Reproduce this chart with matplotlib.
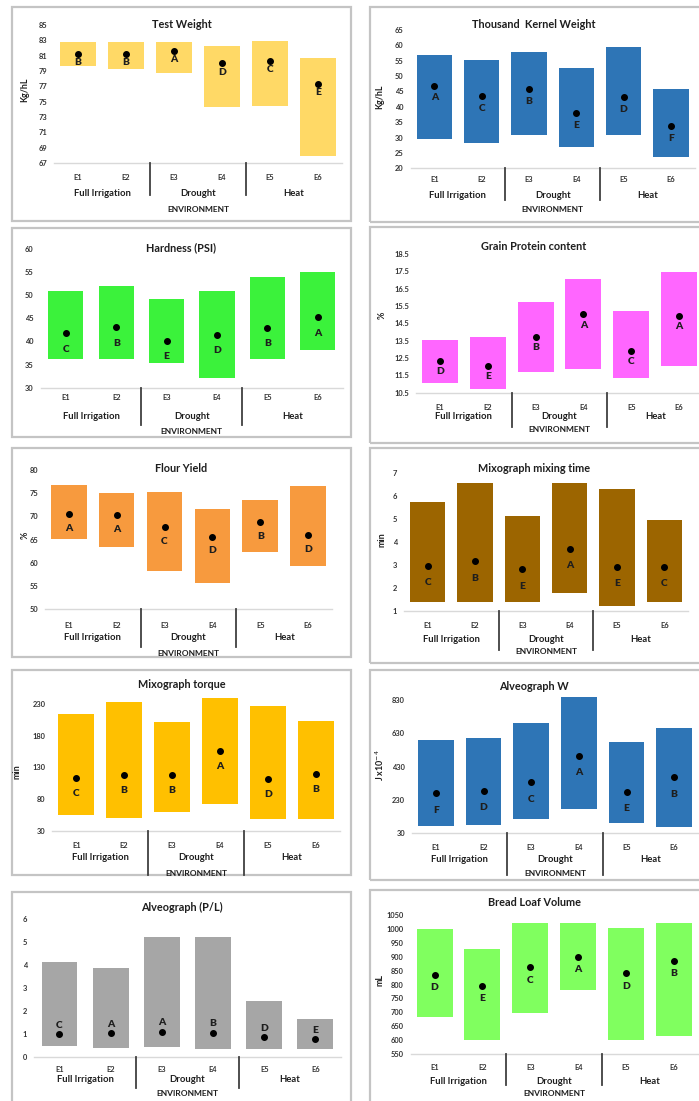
import matplotlib
matplotlib.use("Agg")
import matplotlib.pyplot as plt
from matplotlib.patches import Rectangle

# ---------------- data ----------------
envs = ["E1", "E2", "E3", "E4", "E5", "E6"]
groups = ["Full Irrigation", "Drought", "Heat"]
axis_title = "ENVIRONMENT"

tw_low = [79.7, 79.3, 78.8, 74.25, 74.4, 67.96]
tw_high = [82.75, 82.75, 82.75, 82.3, 82.96, 80.66]
tw_mean = [81.2, 81.2, 81.6, 80.0, 80.3, 77.3]
tw_letters = ["B", "B", "A", "D", "C", "E"]

tkw_low = [29.5, 28.3, 30.8, 27.0, 30.9, 23.7]
tkw_high = [56.9, 55.2, 57.7, 52.75, 59.4, 45.9]
tkw_mean = [46.9, 43.6, 45.9, 37.9, 43.1, 33.8]
tkw_letters = ["A", "C", "B", "E", "D", "F"]

hard_low = [36.1, 36.1, 35.3, 32.2, 36.1, 38.1]
hard_high = [51.0, 52.1, 49.1, 51.0, 54.0, 55.1]
hard_mean = [41.8, 43.1, 40.2, 41.4, 43.0, 45.2]
hard_letters = ["C", "B", "E", "D", "B", "A"]

prot_low = [11.06, 10.69, 11.67, 11.87, 11.37, 12.06]
prot_high = [13.54, 13.73, 15.75, 17.06, 15.23, 17.44]
prot_mean = [12.33, 12.06, 13.71, 15.02, 12.9, 14.92]
prot_letters = ["D", "E", "B", "A", "C", "A"]

flour_low = [65.1, 63.5, 58.25, 55.6, 62.4, 59.3]
flour_high = [76.8, 75.0, 75.3, 71.6, 73.5, 76.6]
flour_mean = [70.45, 70.3, 67.65, 65.65, 68.7, 66.0]
flour_letters = ["A", "A", "C", "D", "B", "D"]

mix_low = [1.36, 1.36, 1.36, 1.76, 1.22, 1.36]
mix_high = [5.73, 6.56, 5.15, 6.56, 6.30, 4.96]
mix_mean = [2.95, 3.15, 2.8, 3.69, 2.92, 2.92]
mix_letters = ["C", "B", "E", "A", "E", "C"]

torq_low = [54.8, 49.5, 60.1, 72.3, 48.5, 48.5]
torq_high = [214.7, 233.2, 202.6, 240.6, 227.9, 204.1]
torq_mean = [112.8, 118.1, 118.1, 156.1, 111.3, 119.7]
torq_letters = ["C", "B", "B", "A", "D", "B"]

alvw_low = [76, 80, 116, 176, 90, 66]
alvw_high = [590, 600, 690, 850, 576, 664]
alvw_mean = [270, 286, 336, 496, 280, 366]
alvw_letters = ["F", "D", "C", "A", "E", "B"]

pl_low = [0.47, 0.39, 0.44, 0.32, 0.33, 0.33]
pl_high = [4.15, 3.86, 5.24, 5.24, 2.43, 1.65]
pl_mean = [0.99, 1.02, 1.09, 1.05, 0.84, 0.76]
pl_letters = ["C", "A", "A", "B", "D", "E"]

loaf_low = [684.3, 600.4, 698.7, 780.2, 600.4, 615.9]
loaf_high = [998.4, 927.7, 1022.4, 1022.4, 1002.0, 1022.4]
loaf_mean = [835.4, 794.6, 861.8, 900.1, 840.2, 885.7]
loaf_letters = ["D", "E", "C", "A", "D", "B"]

titles = ["Test Weight", "Thousand  Kernel Weight", "Hardness (PSI)",
          "Grain Protein content", "Flour Yield", "Mixograph mixing time",
          "Mixograph torque", "Alveograph W", "Alveograph (P/L)",
          "Bread Loaf Volume"]
ylabels = ["Kg/hL", "Kg/hL", "", "%", "%", "min", "min", "J x10$^{-4}$", "", "mL"]
yticks_list = [
    [67, 69, 71, 73, 75, 77, 79, 81, 83, 85],
    [20, 25, 30, 35, 40, 45, 50, 55, 60, 65],
    [30, 35, 40, 45, 50, 55, 60],
    [10.5, 11.5, 12.5, 13.5, 14.5, 15.5, 16.5, 17.5, 18.5],
    [50, 55, 60, 65, 70, 75, 80],
    [1, 2, 3, 4, 5, 6, 7],
    [30, 80, 130, 180, 230],
    [30, 230, 430, 630, 830],
    [0, 1, 2, 3, 4, 5, 6],
    [550, 600, 650, 700, 750, 800, 850, 900, 950, 1000, 1050],
]
lows = [tw_low, tkw_low, hard_low, prot_low, flour_low, mix_low, torq_low, alvw_low, pl_low, loaf_low]
highs = [tw_high, tkw_high, hard_high, prot_high, flour_high, mix_high, torq_high, alvw_high, pl_high, loaf_high]
means = [tw_mean, tkw_mean, hard_mean, prot_mean, flour_mean, mix_mean, torq_mean, alvw_mean, pl_mean, loaf_mean]
letters = [tw_letters, tkw_letters, hard_letters, prot_letters, flour_letters, mix_letters,
           torq_letters, alvw_letters, pl_letters, loaf_letters]

# ---------------- styles / layout (pixels) ----------------
colors = ["#FFD966", "#2E75B6", "#3BF23B", "#FF66FF", "#F79A3E", "#9C6500",
          "#FFC000", "#2E75B6", "#A6A6A6", "#80FF5F"]
boxes = [(12, 7, 351, 221), (370, 7, 706, 222),
         (12, 228, 351, 437), (370, 227, 706, 443),
         (12, 448, 351, 657), (370, 448, 706, 663),
         (12, 670, 351, 875), (370, 670, 706, 880),
         (12, 892, 351, 1108), (370, 890, 706, 1108)]
axes_px = [(54, 342, 25, 163), (410.6, 694.6, 30, 168.3),
           (40.6, 343, 249, 387.7), (416, 703, 254, 392.7),
           (44.9, 332, 470, 609.3), (404, 688, 473.3, 610.7),
           (52.3, 339.6, 704.3, 830.7), (412, 698, 700, 833.3),
           (33.9, 341, 919.3, 1056.7), (410.6, 698, 915, 1054)]
rows = [(177, 193, 210, 195), (179, 195, 210, 200),
        (398, 417, 432, 425), (407, 417, 430, 427),
        (626, 638, 653, 647), (625, 639, 652, 650),
        (845, 857, 873, 875), (848, 860, 873, 875),
        (1069, 1080, 1093, 1088), (1067, 1081, 1093, 1085)]
title_y = [25, 25, 248, 246, 468, 468, 685, 686, 907, 903]
ylabel_pos = [(25, 90), (380, 97), None, (382, 315), (25, 535), (382, 540),
              (17, 772), (380, 765), None, (380, 980)]
letter_dy = [8.7, 12.3, 16, 10.7, 14, 16.7, 15, 16.7, -9, 12.7]
bar_w = [0.75, 0.75, 0.70, 0.75, 0.745, 0.75, 0.75, 0.75, 0.70, 0.75]

W, H = 699, 1101
DPI = 100
plt.rcParams['font.family'] = ['Lato', 'DejaVu Sans']
fig = plt.figure(figsize=(W / DPI, H / DPI), dpi=DPI)
fig.patch.set_facecolor("white")

PX = 72.0 / DPI
txt_col = "#333333"
dark = "#1E1E1E"


def fx(x):
    return x / W


def fy(y):
    return 1 - y / H


for i in range(10):
    l, t, r, b = boxes[i]
    fig.patches.append(Rectangle((fx(l), fy(b)), fx(r - l), (b - t) / H,
                                 transform=fig.transFigure, fill=False,
                                 edgecolor="#C4C4C4", linewidth=1.6, zorder=0))
    al, ar, at, ab = axes_px[i]
    ax = fig.add_axes([fx(al), fy(ab), fx(ar - al), (ab - at) / H])
    ax.set_facecolor("none")
    x = list(range(1, 7))
    yt = yticks_list[i]
    ax.bar(x, [h - lo for h, lo in zip(highs[i], lows[i])], bottom=lows[i],
           width=bar_w[i], color=colors[i], clip_on=False, zorder=2)
    ax.plot(x, means[i], "o", color="black", ms=4.0, clip_on=False, zorder=3)
    for xi, m, lt in zip(x, means[i], letters[i]):
        ax.annotate(lt, (xi, m), xytext=(0, -letter_dy[i] * PX), textcoords="offset points",
                    ha="center", va="center", fontsize=7.4, fontweight="heavy",
                    color=dark, zorder=4)
    ax.set_xlim(0.5, 6.5)
    ax.set_ylim(yt[0], yt[-1])
    ax.set_yticks(yt)
    ax.set_yticklabels([("%g" % v) for v in yt], fontsize=5.4, fontweight="bold", color=txt_col)
    ax.tick_params(axis="y", length=0, pad=5)
    ax.set_xticks([])
    for s in ["left", "right", "top"]:
        ax.spines[s].set_visible(False)
    ax.spines["bottom"].set_color("#D9D9D9")
    ax.spines["bottom"].set_linewidth(1.0)

    ty, gy, ey, sb = rows[i]

    def trans_x(v, al=al, ar=ar):
        return al + (v - 0.5) / 6.0 * (ar - al)

    for xi, e in zip(x, envs):
        fig.text(fx(trans_x(xi)), fy(ty), e, fontsize=5.4, fontweight="bold",
                 color=txt_col, ha="center", va="center")
    for g, gx in zip(groups, [1.5, 3.5, 5.5]):
        fig.text(fx(trans_x(gx)), fy(gy), g, fontsize=6.8, fontweight="bold",
                 color=dark, ha="center", va="center")
    fig.text(fx(trans_x(3.5)), fy(ey), axis_title, fontsize=6.0, fontweight="bold",
             color=dark, ha="center", va="center")
    for sx in [2.5, 4.5]:
        xx = fx(trans_x(sx))
        fig.add_artist(plt.Line2D([xx, xx], [fy(ab), fy(sb)], transform=fig.transFigure,
                                  color="#404040", linewidth=1.3))
    cx = (l + r) / 2 if r < W else (l + 698) / 2
    fig.text(fx(cx), fy(title_y[i]), titles[i],
             fontsize=7.8, fontweight="bold", color=dark, ha="center", va="center")
    if ylabel_pos[i] is not None:
        px, py = ylabel_pos[i]
        fig.text(fx(px), fy(py), ylabels[i], rotation=90, fontsize=6.4, fontweight="bold",
                 color=dark, ha="center", va="center")

fig.savefig("out.png", dpi=DPI, facecolor="white")
